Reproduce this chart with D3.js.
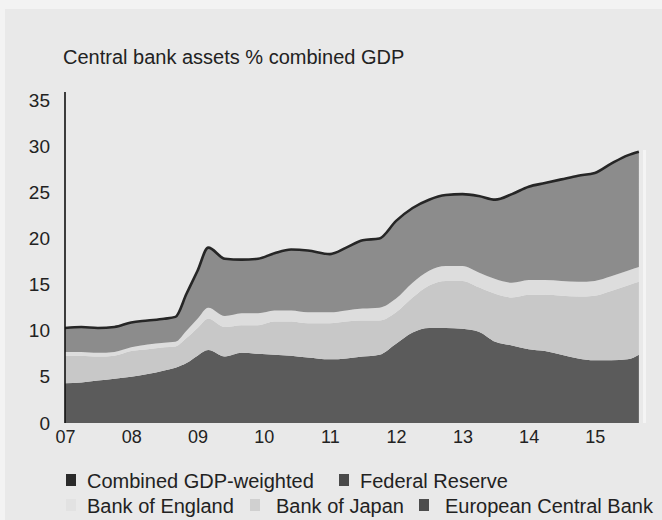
<!DOCTYPE html>
<html>
<head>
<meta charset="utf-8">
<script src="https://cdn.jsdelivr.net/npm/d3@7"></script>
<style>
  html, body { margin: 0; padding: 0; background: #f3f3f3; }
  svg { display: block; }
  text { font-family: "Liberation Sans", Arial, sans-serif; fill: #222; }
</style>
</head>
<body>
<svg id="chart" width="662" height="520"></svg>
<script>
// ---- Data ----
const dates = ["2007-01","2007-04","2007-07","2007-10","2008-01","2008-04","2008-07","2008-09","2008-11",
  "2009-01","2009-03","2009-06","2009-09","2009-12","2010-03","2010-06","2010-09","2011-01","2011-04",
  "2011-07","2011-10","2012-01","2012-04","2012-07","2012-10","2013-01","2013-04","2013-07","2013-10",
  "2014-01","2014-04","2014-07","2014-10","2015-01","2015-04","2015-07","2015-09"];
const ecb = [4.3,4.4,4.6,4.8,5.0,5.3,5.7,6.0,6.5, 7.3,7.9,7.2,7.6,7.5,7.4,7.3,7.1,6.9,7.0, 7.2,7.4,8.6,9.8,10.3,10.3,10.2,9.9,8.8,8.4, 8.0,7.8,7.4,7.0,6.8,6.8,6.9,7.4];
const boj = [3.0,2.9,2.6,2.5,2.8,2.7,2.5,2.3,2.7, 3.0,3.4,3.2,3.0,3.1,3.6,3.7,3.7,3.9,4.0, 3.9,3.7,3.4,3.8,4.6,5.1,5.2,4.8,5.2,5.2, 5.9,6.1,6.4,6.7,7.0,7.5,8.0,7.9];
const boe = [0.4,0.4,0.4,0.4,0.4,0.5,0.5,0.5,0.8, 1.0,1.2,1.2,1.3,1.3,1.2,1.2,1.2,1.2,1.2, 1.3,1.4,1.5,1.6,1.6,1.6,1.6,1.6,1.6,1.6, 1.6,1.6,1.6,1.6,1.6,1.6,1.6,1.6];
const fed = [2.6,2.7,2.7,2.7,2.7,2.6,2.6,2.7,4.0, 5.2,6.5,6.2,5.8,5.9,6.2,6.6,6.7,6.3,6.8, 7.4,7.5,8.4,8.1,7.7,7.7,7.8,8.3,8.6,9.6, 10.1,10.5,11.0,11.5,11.7,12.2,12.5,12.5];

const seriesKeys = ["ecb","boj","boe","fed"];
const seriesNames = ["European Central Bank","Bank of Japan","Bank of England","Federal Reserve"];
const yTicks = [0,5,10,15,20,25,30,35];
const xTickYears = ["2007","2008","2009","2010","2011","2012","2013","2014","2015"];
const xTickLabels = ["07","08","09","10","11","12","13","14","15"];
const title = "Central bank assets % combined GDP";
const legendRow1 = ["Combined GDP-weighted","Federal Reserve"];
const legendRow2 = ["Bank of England","Bank of Japan","European Central Bank"];

// ---- Build table ----
const parse = d3.timeParse("%Y-%m");
const parseY = d3.timeParse("%Y");
const table = dates.map((d,i) => ({date: parse(d), ecb: ecb[i], boj: boj[i], boe: boe[i], fed: fed[i]}));

const colors = {ecb:"#5b5b5b", boj:"#c8c8c8", boe:"#dddddd", fed:"#8c8c8c"};
const lineColor = "#262626";

const svg = d3.select("#chart");
// panel background
svg.append("rect").attr("x",5).attr("y",9).attr("width",657).attr("height",511).attr("fill","#e9e9e9");

const x = d3.scaleTime().domain([parseY("2007"), parseY("2016")]).range([65, 661]);
const y = d3.scaleLinear().domain([0,35]).range([423,100]);

const stack = d3.stack().keys(seriesKeys);
const layers = stack(table);

const area = d3.area()
  .x(d => x(d.data.date))
  .y0(d => y(d[0]))
  .y1(d => y(d[1]))
  .curve(d3.curveMonotoneX);

svg.append("g").selectAll("path").data(layers).join("path")
  .attr("d", area)
  .attr("fill", d => colors[d.key]);

// right edge light line (scan edge)
svg.append("line").attr("x1",644.5).attr("x2",644.5).attr("y1",150).attr("y2",423)
  .attr("stroke","#f4f4f4").attr("stroke-width",3);

// combined line
const line = d3.line()
  .x(d => x(d.data.date))
  .y(d => y(d[1]))
  .curve(d3.curveMonotoneX);
svg.append("path").datum(layers[layers.length-1])
  .attr("d", line).attr("fill","none").attr("stroke",lineColor)
  .attr("stroke-width",2.6).attr("stroke-linejoin","round");

// y axis
const yAxis = d3.axisLeft(y).tickValues(yTicks).tickSize(0).tickPadding(15);
const gy = svg.append("g").attr("transform","translate(65,0)").call(yAxis);
gy.select(".domain").attr("stroke","#111").attr("stroke-width",1.6).attr("d","M0,423V92");
gy.selectAll("text").attr("font-size",19).style("font-family","Liberation Sans, Arial, sans-serif").attr("fill","#222");

// x axis
const xAxis = d3.axisBottom(x).tickValues(xTickYears.map(parseY)).tickSize(0).tickPadding(7)
  .tickFormat((d,i) => xTickLabels[i]);
const gx = svg.append("g").attr("transform","translate(0,423)").call(xAxis);
gx.select(".domain").remove();
gx.selectAll("text").attr("font-size",18).style("font-family","Liberation Sans, Arial, sans-serif").attr("fill","#222");

// title
svg.append("text").attr("x",63).attr("y",64).attr("font-size",20).text(title);

// legend
const legendSw1 = ["#2a2a2a","#4a4a4a"];
const legendSw2 = ["#e2e2e2","#d0d0d0","#4d4d4d"];
const row1X = [66, 339];
const row2X = [66, 250, 419];
const lg = svg.append("g");
legendRow1.forEach((t,i) => {
  lg.append("rect").attr("x",row1X[i]).attr("y",474).attr("width",10).attr("height",12).attr("fill",legendSw1[i]);
  lg.append("text").attr("x",row1X[i]+21).attr("y",488).attr("font-size",20).text(t);
});
legendRow2.forEach((t,i) => {
  lg.append("rect").attr("x",row2X[i]).attr("y",499).attr("width",10).attr("height",12).attr("fill",legendSw2[i]);
  lg.append("text").attr("x",row2X[i]+(i===0?21:26)).attr("y",513).attr("font-size",20).text(t);
});
</script>
</body>
</html>
